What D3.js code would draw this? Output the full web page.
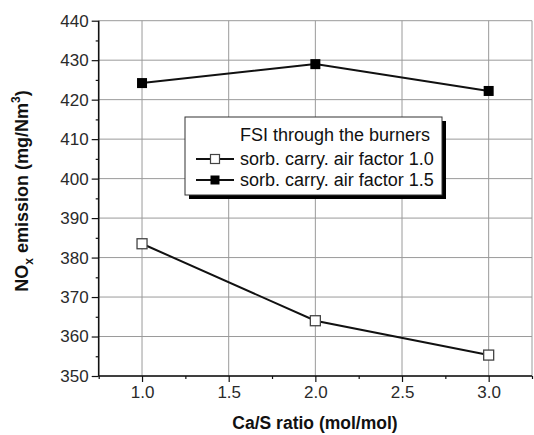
<!DOCTYPE html>
<html>
<head>
<meta charset="utf-8">
<script src="https://cdn.jsdelivr.net/npm/d3@7"></script>
<style>
  body { margin: 0; background: #fff; }
  text { font-family: Arial, "Liberation Sans", sans-serif; }
</style>
</head>
<body>
<div id="chart"></div>
<script>
// Ca/S ratio on x, NOx emission on y
const caS = [1.0, 2.0, 3.0];
const airFactor10 = [383.5, 364.0, 355.3];
const airFactor15 = [424.2, 429.0, 422.2];
const xTicks = [1.0, 1.5, 2.0, 2.5, 3.0];
const yTicks = [350, 360, 370, 380, 390, 400, 410, 420, 430, 440];
const legendTitle = "FSI through the burners";
const seriesNames = ["sorb. carry. air factor 1.0", "sorb. carry. air factor 1.5"];

const width = 534, height = 435;
const margin = {top: 20.7, right: 2, bottom: 59, left: 98.7};

const svg = d3.select("#chart").append("svg")
    .attr("width", width)
    .attr("height", height);

const x = d3.scaleLinear([0.75, 3.25], [margin.left, width - margin.right]);
const y = d3.scaleLinear([350, 440], [height - margin.bottom, margin.top]);

// grid
const grid = svg.append("g").attr("stroke", "#9a9a9a").attr("stroke-width", 1);
grid.selectAll(".gx").data(xTicks).join("line")
    .attr("x1", d => x(d)).attr("x2", d => x(d))
    .attr("y1", y(350)).attr("y2", y(440));
grid.selectAll(".gy").data(yTicks).join("line")
    .attr("x1", x(0.75)).attr("x2", x(3.25))
    .attr("y1", d => y(d)).attr("y2", d => y(d));
grid.append("line")
    .attr("x1", x(3.25)).attr("x2", x(3.25))
    .attr("y1", y(350)).attr("y2", y(440));

// minor ticks
const xMinor = d3.range(0.75, 3.26, 0.25).filter(v => !xTicks.some(t => Math.abs(t - v) < 1e-6));
const yMinor = d3.range(355, 440, 10);

const xAxis = svg.append("g")
    .attr("transform", `translate(0,${y(350)})`)
    .call(d3.axisBottom(x).tickValues(xTicks).tickFormat(d3.format(".1f")).tickSize(6).tickPadding(4));
svg.append("g")
    .attr("transform", `translate(0,${y(350)})`)
    .call(d3.axisBottom(x).tickValues(xMinor).tickFormat("").tickSize(3).tickSizeOuter(0))
    .call(g => g.select(".domain").remove());

const yAxis = svg.append("g")
    .attr("transform", `translate(${x(0.75)},0)`)
    .call(d3.axisLeft(y).tickValues(yTicks).tickSize(7).tickPadding(3));
svg.append("g")
    .attr("transform", `translate(${x(0.75)},0)`)
    .call(d3.axisLeft(y).tickValues(yMinor).tickFormat("").tickSize(3).tickSizeOuter(0))
    .call(g => g.select(".domain").remove());

svg.selectAll(".domain").attr("stroke", "#111").attr("stroke-width", 1.6);
svg.selectAll(".tick line").attr("stroke", "#111").attr("stroke-width", 1.2);
xAxis.selectAll("text").attr("font-size", 17).attr("fill", "#2a2a2a");
yAxis.selectAll("text").attr("font-size", 17).attr("fill", "#2a2a2a");
xAxis.select(".domain").attr("d", `M${x(0.75)},0H${x(3.25)}`);
yAxis.select(".domain").attr("d", `M0,${y(350)}V${y(440)}`);

// series
const line = d3.line().x(d => x(d[0])).y(d => y(d[1]));
const s10 = caS.map((c, i) => [c, airFactor10[i]]);
const s15 = caS.map((c, i) => [c, airFactor15[i]]);

svg.append("path").datum(s10).attr("d", line)
    .attr("fill", "none").attr("stroke", "#111").attr("stroke-width", 2);
svg.append("path").datum(s15).attr("d", line)
    .attr("fill", "none").attr("stroke", "#111").attr("stroke-width", 2);

const ms = 10;
svg.selectAll(".m10").data(s10).join("rect")
    .attr("x", d => x(d[0]) - ms / 2).attr("y", d => y(d[1]) - ms / 2)
    .attr("width", ms).attr("height", ms)
    .attr("fill", "#fff").attr("stroke", "#444").attr("stroke-width", 1.3);
svg.selectAll(".m15").data(s15).join("rect")
    .attr("x", d => x(d[0]) - ms / 2).attr("y", d => y(d[1]) - ms / 2)
    .attr("width", ms).attr("height", ms)
    .attr("fill", "#000");

// axis titles
svg.append("text")
    .attr("x", 315).attr("y", 429)
    .attr("text-anchor", "middle")
    .attr("font-size", 17.5).attr("font-weight", "bold").attr("fill", "#111")
    .text("Ca/S ratio (mol/mol)");

const yt = svg.append("text")
    .attr("transform", "translate(28,191) rotate(-90)")
    .attr("text-anchor", "middle")
    .attr("font-size", 18).attr("font-weight", "bold").attr("fill", "#111");
yt.append("tspan").text("NO");
yt.append("tspan").attr("font-size", 12).attr("dy", 5).text("x");
yt.append("tspan").attr("dy", -5).text(" emission (mg/Nm");
yt.append("tspan").attr("font-size", 12).attr("dy", -8).text("3");
yt.append("tspan").attr("dy", 8).text(")");

// legend
const lg = svg.append("g").attr("transform", "translate(185,117)");
lg.append("rect").attr("x", 4).attr("y", 4).attr("width", 257).attr("height", 78).attr("fill", "#000");
lg.append("rect").attr("x", 0).attr("y", 0).attr("width", 257).attr("height", 78)
    .attr("fill", "#fff").attr("stroke", "#333").attr("stroke-width", 1);
lg.append("text").attr("x", 55).attr("y", 24)
    .attr("font-size", 18).attr("fill", "#111").text(legendTitle);
seriesNames.forEach((name, i) => {
    const cy = 42 + i * 21;
    lg.append("line").attr("x1", 11).attr("x2", 49).attr("y1", cy).attr("y2", cy)
        .attr("stroke", "#111").attr("stroke-width", 2);
    lg.append("rect").attr("x", 30 - 4.5).attr("y", cy - 4.5).attr("width", 9).attr("height", 9)
        .attr("fill", i === 0 ? "#fff" : "#000").attr("stroke", i === 0 ? "#444" : "none").attr("stroke-width", 1.2);
    lg.append("text").attr("x", 55).attr("y", cy + 6)
        .attr("font-size", 18).attr("fill", "#111").text(name);
});
</script>
</body>
</html>
